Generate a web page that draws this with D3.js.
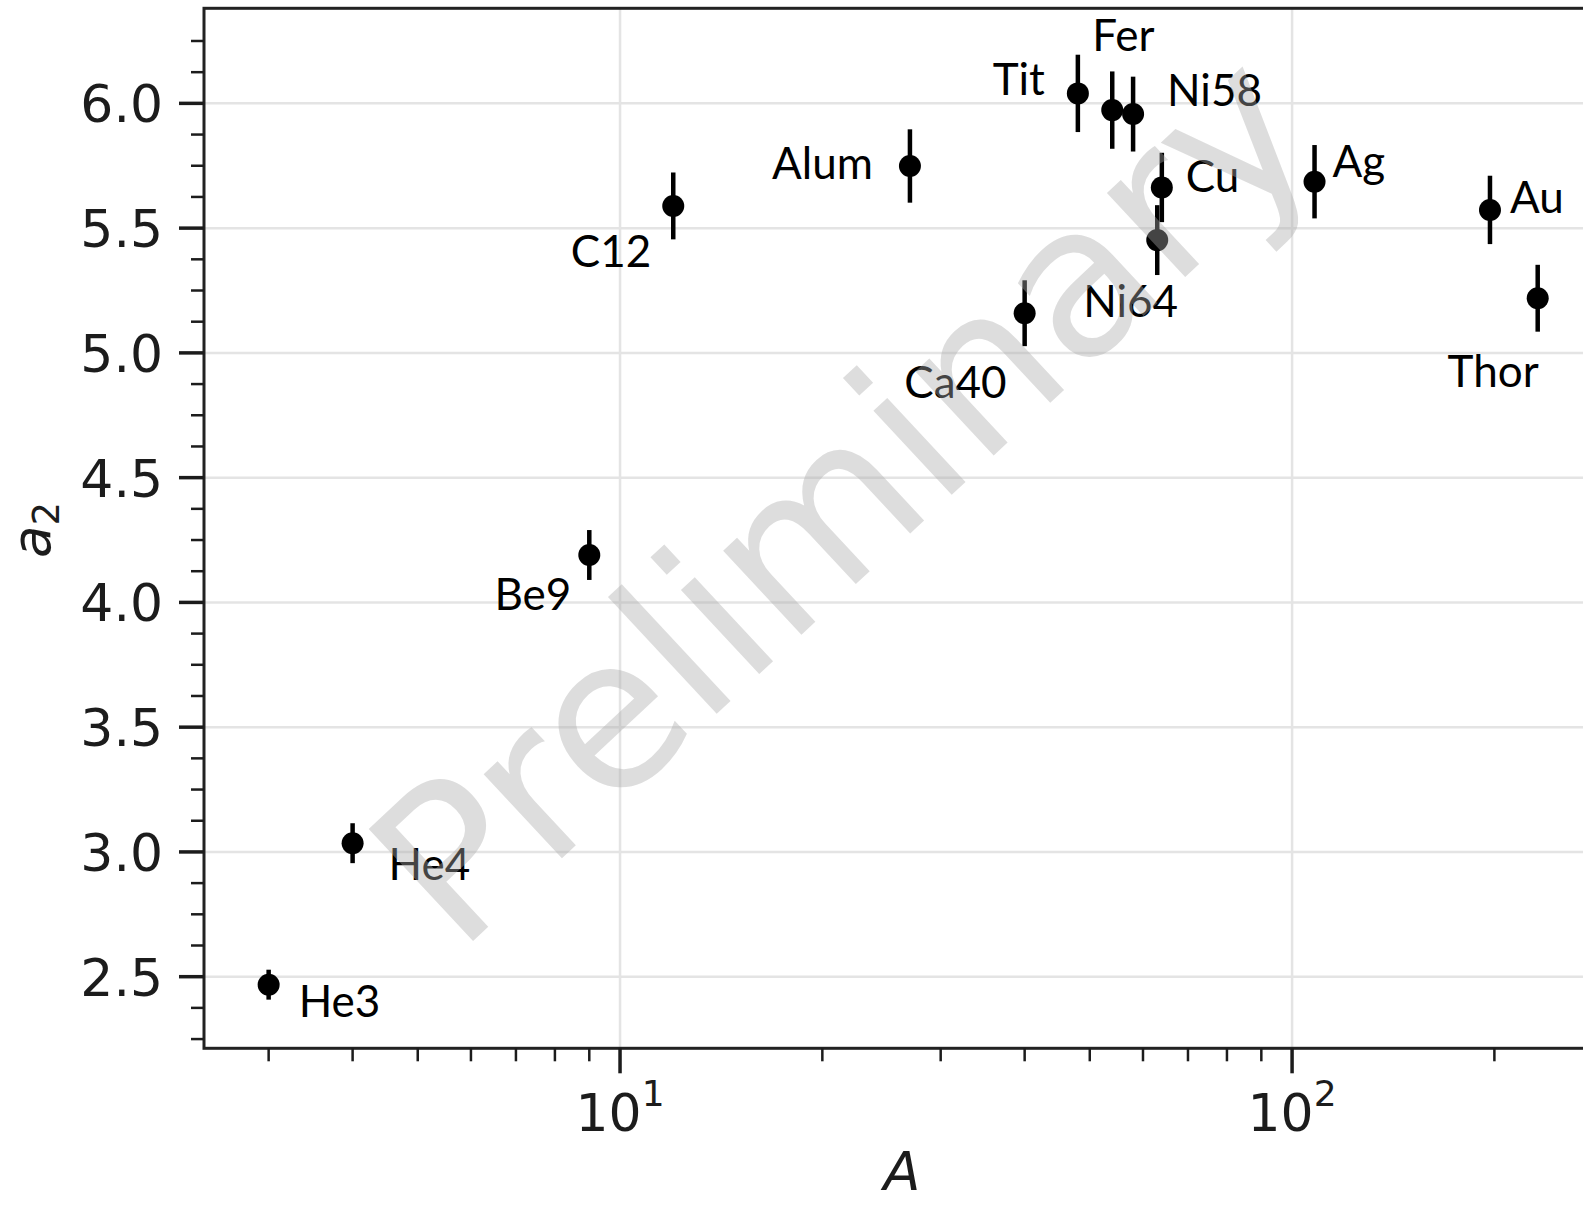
<!DOCTYPE html>
<html>
<head>
<meta charset="utf-8">
<script src="https://cdn.jsdelivr.net/npm/d3@7"></script>
<style>
  html, body { margin: 0; padding: 0; background: #fff; overflow: hidden; }
  svg { display: block; }
</style>
</head>
<body>
<svg id="chart" width="1583" height="1205"></svg>
<script>
// Nuclei, mass number A, fitted a2 and its uncertainty
const names     = ["He3", "He4", "Be9", "C12", "Alum", "Ca40", "Tit", "Fer", "Ni58", "Cu", "Ni64", "Ag", "Au", "Thor"];
const massNumber = [3, 4, 9, 12, 27, 40, 48, 54, 58, 64, 63, 108, 197, 232];
const a2Value   = [2.468, 3.035, 4.19, 5.589, 5.749, 5.159, 6.040, 5.973, 5.957, 5.663, 5.452, 5.686, 5.573, 5.219];
const a2Error   = [0.06, 0.08, 0.10, 0.134, 0.147, 0.132, 0.155, 0.155, 0.15, 0.139, 0.14, 0.147, 0.137, 0.134];

// Axis ticks
const yMajorTicks = [2.5, 3.0, 3.5, 4.0, 4.5, 5.0, 5.5, 6.0];
const yMinorTicks = [2.25, 2.375, 2.625, 2.75, 2.875, 3.125, 3.25, 3.375, 3.625, 3.75, 3.875,
                     4.125, 4.25, 4.375, 4.625, 4.75, 4.875, 5.125, 5.25, 5.375, 5.625, 5.75, 5.875,
                     6.125, 6.25];
const xMajorTicks = [10, 100];
const xMajorExponents = ["1", "2"];
const xMinorTicks = [3, 4, 5, 6, 7, 8, 9, 20, 30, 40, 50, 60, 70, 80, 90, 200];

const xDomain = [2.404, 287.2];
const yDomain = [2.213, 6.381];

// Label placement relative to each point: [dx, dy, anchor]
const labelPlacement = {
  He3:  [30, 32, "start"],
  He4:  [36, 37, "start"],
  Be9:  [-18, 55, "end"],
  C12:  [-22, 61, "end"],
  Alum: [-37, 13, "end"],
  Ca40: [-18, 85, "end"],
  Tit:  [-33, 2, "end"],
  Fer:  [-20, -59, "start"],
  Ni58: [34, -8, "start"],
  Cu:   [24, 5, "start"],
  Ni64: [-74, 77, "start"],
  Ag:   [18, -5, "start"],
  Au:   [20, 3, "start"],
  Thor: [1, 89, "end"]
};

const points = names.map((n, i) => ({ name: n, A: massNumber[i], v: a2Value[i], e: a2Error[i] }));

const plot = { left: 204, top: 8.3, right: 1600, bottom: 1048.3 };

const x = d3.scaleLog().domain(xDomain).range([plot.left, plot.right]);
const y = d3.scaleLinear().domain(yDomain).range([plot.bottom, plot.top]);

const svg = d3.select("#chart");
const tickFont = "'DejaVu Sans', sans-serif";
const ink = "#1c1c1c";

// Grid
const grid = svg.append("g").attr("stroke", "#e4e4e4").attr("stroke-width", 2.5);
grid.selectAll("line.gy").data(yMajorTicks).join("line")
  .attr("x1", plot.left).attr("x2", plot.right)
  .attr("y1", d => y(d)).attr("y2", d => y(d));
grid.selectAll("line.gx").data(xMajorTicks).join("line")
  .attr("y1", plot.top).attr("y2", plot.bottom)
  .attr("x1", d => x(d)).attr("x2", d => x(d));

// Error bars and markers
const marks = svg.append("g");
marks.selectAll("line.err").data(points).join("line")
  .attr("class", "err")
  .attr("x1", d => x(d.A)).attr("x2", d => x(d.A))
  .attr("y1", d => y(d.v - d.e)).attr("y2", d => y(d.v + d.e))
  .attr("stroke", "#000").attr("stroke-width", 4.5);
marks.selectAll("circle").data(points).join("circle")
  .attr("cx", d => x(d.A)).attr("cy", d => y(d.v))
  .attr("r", 11).attr("fill", "#000");

// Point labels
svg.append("g").selectAll("text").data(points).join("text")
  .attr("x", d => x(d.A) + labelPlacement[d.name][0])
  .attr("y", d => y(d.v) + labelPlacement[d.name][1])
  .attr("text-anchor", d => labelPlacement[d.name][2])
  .attr("font-family", "Lato, 'Open Sans', sans-serif")
  .attr("font-size", 44)
  .attr("fill", "#000")
  .text(d => d.name);

// Frame
svg.append("rect")
  .attr("x", plot.left).attr("y", plot.top)
  .attr("width", plot.right - plot.left).attr("height", plot.bottom - plot.top)
  .attr("fill", "none").attr("stroke", "#222").attr("stroke-width", 3);

// Y ticks
const yt = svg.append("g").attr("stroke", ink);
yt.selectAll("line.maj").data(yMajorTicks).join("line")
  .attr("x1", plot.left - 25).attr("x2", plot.left)
  .attr("y1", d => y(d)).attr("y2", d => y(d)).attr("stroke-width", 3.5);
yt.selectAll("line.min").data(yMinorTicks).join("line")
  .attr("x1", plot.left - 13).attr("x2", plot.left)
  .attr("y1", d => y(d)).attr("y2", d => y(d)).attr("stroke-width", 2.5);
svg.append("g").selectAll("text").data(yMajorTicks).join("text")
  .attr("x", plot.left - 41).attr("y", d => y(d))
  .attr("dy", "0.365em")
  .attr("text-anchor", "end")
  .attr("font-family", tickFont).attr("font-size", 52).attr("fill", ink)
  .text(d => d.toFixed(1));

// X ticks
const xt = svg.append("g").attr("stroke", ink);
xt.selectAll("line.maj").data(xMajorTicks).join("line")
  .attr("x1", d => x(d)).attr("x2", d => x(d))
  .attr("y1", plot.bottom).attr("y2", plot.bottom + 25).attr("stroke-width", 3.5);
xt.selectAll("line.min").data(xMinorTicks).join("line")
  .attr("x1", d => x(d)).attr("x2", d => x(d))
  .attr("y1", plot.bottom).attr("y2", plot.bottom + 13).attr("stroke-width", 2.5);
const xl = svg.append("g").selectAll("text").data(xMajorTicks).join("text")
  .attr("x", d => x(d)).attr("y", plot.bottom + 83)
  .attr("text-anchor", "middle")
  .attr("font-family", tickFont).attr("font-size", 52).attr("fill", ink);
xl.append("tspan").text("10");
xl.append("tspan").attr("font-size", 36).attr("dy", -25).text((d, i) => xMajorExponents[i]);

// Axis titles
svg.append("text")
  .attr("x", 902).attr("y", 1190)
  .attr("text-anchor", "middle")
  .attr("font-family", tickFont).attr("font-style", "italic")
  .attr("font-size", 54).attr("fill", ink)
  .text("A");
const ylab = svg.append("text")
  .attr("transform", "translate(50,530) rotate(-90)")
  .attr("text-anchor", "middle")
  .attr("font-family", tickFont).attr("font-size", 53).attr("fill", ink);
ylab.append("tspan").attr("font-style", "italic").text("a");
ylab.append("tspan").attr("font-size", 37).attr("dy", 9).text("2");

// Watermark
svg.append("text")
  .attr("transform", "translate(458,955) rotate(-43)")
  .attr("font-family", tickFont).attr("font-size", 210)
  .attr("fill", "#aaaaaa").attr("fill-opacity", 0.4)
  .text("Preliminary");
</script>
</body>
</html>
